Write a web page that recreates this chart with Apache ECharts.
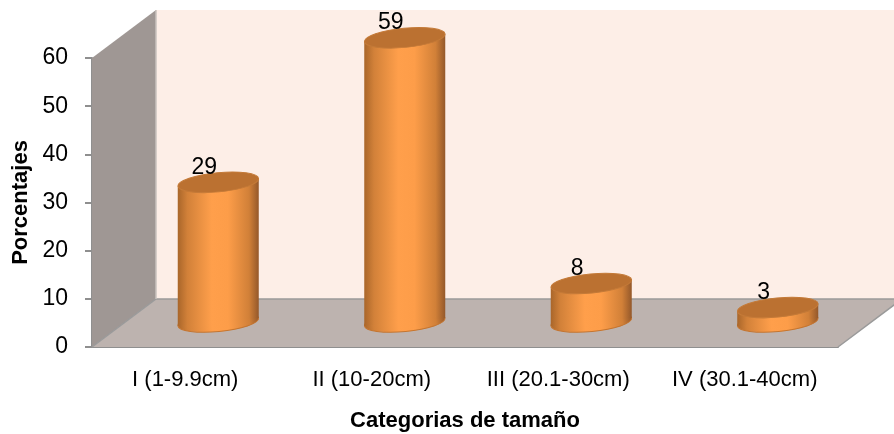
<!DOCTYPE html>
<html><head><meta charset="utf-8">
<style>html,body{margin:0;padding:0;background:#fff}#c{width:894px;height:434px}</style>
<script src="https://cdn.jsdelivr.net/npm/echarts@6/dist/echarts.min.js"></script>
</head><body><div id="c"></div>
<script>
const categories = ['I (1-9.9cm)', 'II (10-20cm)', 'III (20.1-30cm)', 'IV (30.1-40cm)'];
const values = [29, 59, 8, 3];
const yTicks = {min: 0, max: 60, interval: 10};
const xTitle = 'Categorias de tamaño';
const yTitle = 'Porcentajes';

const FONT = '"Liberation Sans",Arial,sans-serif';
const DEPTH = {x: 64, y: -48};
const BAR = {dx: 33, dy: -25, rx: 40.5, ry: 9.6, tilt: 4, rot: 0.095};

function renderWalls(params, api) {
  const cs = params.coordSys;
  const x0 = cs.x, x1 = cs.x + cs.width, yb = cs.y + cs.height, yt = cs.y;
  const dx = DEPTH.x, dy = DEPTH.y;
  return {type: 'group', silent: true, children: [
    {type: 'polygon', shape: {points: [[x0 + dx, yt + dy], [x1 + dx, yt + dy], [x1 + dx, yb + dy], [x0 + dx, yb + dy]]},
      style: {fill: '#fdeee7'}},
    {type: 'polygon', shape: {points: [[x0, yt], [x0 + dx, yt + dy], [x0 + dx, yb + dy], [x0, yb]]},
      style: {fill: '#9f9794'}},
    {type: 'polygon', shape: {points: [[x0, yb], [x0 + dx, yb + dy], [x1 + dx, yb + dy], [x1, yb]]},
      style: {fill: '#bdb3af'}},
    {type: 'polyline', shape: {points: [[x1, yb], [x1 + dx, yb + dy], [x0 + dx, yb + dy], [x0, yb]]},
      style: {stroke: '#9a9a9a', lineWidth: 1.5, fill: null}},
    {type: 'line', shape: {x1: x0 + dx, y1: yt + dy, x2: x0 + dx, y2: yb + dy},
      style: {stroke: '#c8c2be', lineWidth: 1.5}}
  ]};
}

function renderCylinder(params, api) {
  const v = api.value(1);
  const top = api.coord([api.value(0), v]);
  const base = api.coord([api.value(0), 0]);
  const cx = top[0] + BAR.dx;
  const ty = top[1] + BAR.dy, by = base[1] + BAR.dy;
  const {rx, ry, tilt, rot} = BAR;
  const grad = {type: 'linear', x: 0, y: 0, x2: 1, y2: 0, colorStops: [
    {offset: 0, color: '#a9662a'}, {offset: 0.12, color: '#d28139'},
    {offset: 0.42, color: '#ff9f4b'}, {offset: 0.62, color: '#fd9d49'},
    {offset: 0.88, color: '#d18038'}, {offset: 1, color: '#94582a'}]};
  const ell = (cy, style) => ({type: 'ellipse', shape: {cx: cx, cy: cy, rx: rx, ry: ry},
    rotation: rot, originX: cx, originY: cy, style: style});
  return {type: 'group', children: [
    ell(by, {fill: grad, stroke: '#c47530', lineWidth: 1}),
    {type: 'polygon', shape: {points: [[cx - rx, ty + tilt], [cx + rx, ty - tilt], [cx + rx, by - tilt], [cx - rx, by + tilt]]},
      style: {fill: grad}},
    ell(ty, {fill: '#bb7131', stroke: '#c47a38', lineWidth: 1}),
    {type: 'text', x: cx - 14, y: ty - 15,
      style: {text: String(v), fill: '#000', font: '23px ' + FONT, align: 'center', verticalAlign: 'middle'}}
  ]};
}

const chart = echarts.init(document.getElementById('c'), null, {renderer: 'canvas'});
chart.setOption({
  animation: false,
  backgroundColor: '#fff',
  grid: {left: 92, right: 56, top: 58, height: 289, containLabel: false, outerBoundsMode: 'none'},
  xAxis: {
    type: 'category', data: categories,
    axisLine: {lineStyle: {color: '#8f8f8f', width: 2}},
    axisTick: {show: false},
    axisLabel: {color: '#000', fontFamily: FONT, fontSize: 22, margin: 22, interval: 0, hideOverlap: false},
    name: xTitle, nameLocation: 'middle', nameGap: 63,
    nameTextStyle: {color: '#000', fontFamily: FONT, fontSize: 22, fontWeight: 'bold'}
  },
  yAxis: {
    type: 'value', min: yTicks.min, max: yTicks.max, interval: yTicks.interval,
    splitLine: {show: false},
    axisLine: {show: true, lineStyle: {color: '#8f8f8f', width: 2}},
    axisTick: {show: true, length: 7, lineStyle: {color: '#8f8f8f', width: 2}},
    axisLabel: {color: '#000', fontFamily: FONT, fontSize: 23, margin: 24},
    name: yTitle, nameLocation: 'middle', nameGap: 59, nameRotate: 90,
    nameTextStyle: {color: '#000', fontFamily: FONT, fontSize: 22, fontWeight: 'bold'}
  },
  series: [
    {type: 'custom', name: 'walls', renderItem: renderWalls, data: [[0, 0]], z: 1, clip: false, silent: true},
    {type: 'custom', name: 'Porcentajes', renderItem: renderCylinder,
      data: categories.map((c, i) => [i, values[i]]), encode: {x: 0, y: 1}, z: 3, clip: false}
  ]
});
</script></body></html>
